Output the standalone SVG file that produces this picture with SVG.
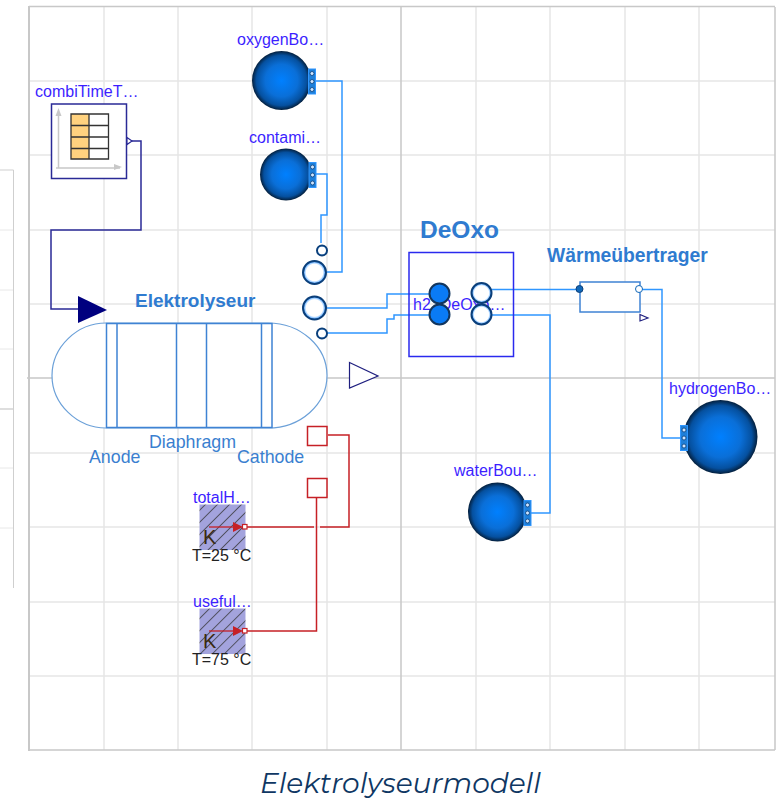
<svg xmlns="http://www.w3.org/2000/svg" width="783" height="800" viewBox="0 0 783 800">
<style>
.g{stroke:#e6e6e6;stroke-width:1.5;fill:none}
.gd{stroke:#c8c8c8;stroke-width:1.5;fill:none}
.lb{font-family:"Liberation Sans",Arial,sans-serif;font-size:16px;fill:#3c1fff}
.bl{font-family:"Liberation Sans",Arial,sans-serif;fill:#3a7fd0;font-size:17.8px}
.blb{font-family:"Liberation Sans",Arial,sans-serif;fill:#2f7bd0;font-weight:bold}
.bk{font-family:"Liberation Sans",Arial,sans-serif;font-size:16px;fill:#222}
.fl{fill:none;stroke:#2f96ff;stroke-width:1.5}
.hr{fill:none;stroke:#c62026;stroke-width:1.5}
.sg{fill:none;stroke:#2a2a96;stroke-width:1.5}
.e{fill:none;stroke:#3f83d4;stroke-width:1.5}
.po{fill:url(#ring);stroke:#0b3f7a;stroke-width:2}
.pf{fill:#0a7bf5;stroke:#12365f;stroke-width:2}
.port{fill:#1f7fd8;stroke:#2f96ff;stroke-width:1}
.pd{fill:#cfe6ff;stroke:#0b3f7a;stroke-width:.8}
</style>
<defs>
<radialGradient id="ball" cx="50%" cy="50%" r="50%">
<stop offset="0" stop-color="#0080ff"/><stop offset=".55" stop-color="#0a6fd8"/><stop offset=".85" stop-color="#05509f"/><stop offset="1" stop-color="#041f3c"/>
</radialGradient>
<radialGradient id="ring" cx="50%" cy="50%" r="50%">
<stop offset="0" stop-color="#fff"/><stop offset=".72" stop-color="#fff"/><stop offset="1" stop-color="#1f8bff"/>
</radialGradient>
<pattern id="hatch" width="8.500" height="8.500" patternUnits="userSpaceOnUse" patternTransform="rotate(45)">
<rect width="8.500" height="8.500" fill="#a3a3dd"/><line x1="0" y1="0" x2="0" y2="8.500" stroke="#333" stroke-width="1.400"/>
</pattern>
<g id="stack">
<rect x="-3.500" y="-12.500" width="7" height="25" class="port"/>
<circle cx="0" cy="-8" r="2" class="pd"/><circle cx="0" cy="0" r="2" class="pd"/><circle cx="0" cy="8" r="2" class="pd"/>
</g>
</defs>
<rect width="783" height="800" fill="#fff"/>
<g id="sidepanel" fill="none" stroke="#cfcfcf" stroke-width="1">
<path d="M0 170H13.500V588"/>
<path d="M0 230H13M0 290H13M0 349H13M0 468H13M0 528H13" stroke="#e8e8e8"/>
<path d="M0 409H13" stroke="#bdbdbd"/>
</g>
<g id="grid">
<path class="g" d="M104 7V750M178 7V750M252 7V750M327 7V750M476 7V750M550 7V750M625 7V750M699 7V750M29 81H775M29 155H775M29 230H775M29 304H775M29 453H775M29 527H775M29 602H775M29 676H775"/>
<path class="gd" d="M401 7V750M27 378H775M29 750H775M775 7V750M29 6.500H775"/>
<path d="M29 6V751" fill="none" stroke="#c8c8c8" stroke-width="2"/>
</g>
<g id="connectors">
<path class="fl" d="M315 81H342V272H327"/>
<path class="fl" d="M315 174H327V215H321V243"/>
<path class="fl" d="M327 308H387V294H430"/>
<path class="fl" d="M327 333H387V319H394V315H430"/>
<path class="fl" d="M492 289.500H580"/>
<path class="fl" d="M492 315H550V513H531"/>
<path class="fl" d="M640 289.500H662V438H680"/>
<path class="hr" d="M328 435H349V527H320M314 527H245"/>
<path class="hr" d="M316.500 498V631H245"/>
<path class="sg" d="M131 141H141V230H51V309H78"/>
</g>
<g id="combiTimeTable">
<text class="lb" x="35" y="97">combiTimeT…</text>
<rect x="51.500" y="104" width="75" height="74.500" fill="#fff" stroke="#2a2a96" stroke-width="1.500"/>
<path d="M58.500 168V112M56 168H120" fill="none" stroke="#c8c8c8" stroke-width="1.500"/>
<path d="M58.500 108L55.500 116H61.500ZM122 167L114 164V170Z" fill="#c8c8c8"/>
<rect x="71" y="114" width="18" height="45" fill="#ffd27f"/>
<path d="M71 114H108.500V159H71ZM89 114V159M71 125.500H108.500M71 137H108.500M71 148.500H108.500" fill="none" stroke="#333" stroke-width="1.300"/>
<path d="M127 137.500L132 141L127 144.500Z" fill="#fff" stroke="#2a2a96" stroke-width="1.200"/>
</g>
<g id="oxygenBoundary">
<text class="lb" x="237" y="45">oxygenBo…</text>
<circle cx="281.500" cy="80.500" r="29.500" fill="url(#ball)"/>
<use href="#stack" x="312" y="81.500"/>
</g>
<g id="contaminant">
<text class="lb" x="249" y="143">contami…</text>
<circle cx="286" cy="174.500" r="26" fill="url(#ball)"/>
<use href="#stack" x="312.500" y="175"/>
</g>
<g id="electrolyzer">
<text class="blb" x="135" y="307" font-size="19">Elektrolyseur</text>
<path d="M106 323H268C301 323 327 347 327 375.500C327 404 301 428 268 428H106C77 428 52 404 52 375.500C52 347 77 323 106 323Z" fill="#fff" stroke="#6ba0d8" stroke-width="1.200"/>
<path class="e" d="M106.500 323.500H272V427.500H106.500ZM117 323.500V427.500M176.500 323.500V427.500M206.500 323.500V427.500M261.500 323.500V427.500"/>
<path d="M78 296L107 310L78 323Z" fill="#00007f"/>
<circle class="po" cx="322" cy="250.500" r="5"/>
<circle class="po" cx="314.500" cy="272.500" r="11.500"/>
<circle class="po" cx="314.500" cy="308" r="11.500"/>
<circle class="po" cx="322" cy="333.500" r="5"/>
<path d="M349.500 362.500L378 376L349.500 388Z" fill="#fff" stroke="#1f1f7f" stroke-width="1.200"/>
<rect x="307.500" y="426.500" width="19.500" height="19" fill="#fff" stroke="#c62026" stroke-width="1.500"/>
<rect x="307.500" y="478.500" width="19.500" height="19" fill="#fff" stroke="#c62026" stroke-width="1.500"/>
<text class="bl" x="89" y="462.500">Anode</text>
<text class="bl" x="149" y="447.500">Diaphragm</text>
<text class="bl" x="237" y="462.500">Cathode</text>
</g>
<g id="deOxo">
<text class="blb" x="420" y="238" font-size="24.500">DeOxo</text>
<rect x="409" y="252.500" width="104.500" height="104" fill="none" stroke="#2a2aee" stroke-width="1.500"/>
<text class="lb" x="413" y="310">h2_DeOxo…</text>
<circle class="pf" cx="439.500" cy="293.500" r="10"/>
<circle class="pf" cx="439.500" cy="314.500" r="10"/>
<circle class="po" cx="481.500" cy="293" r="10"/>
<circle class="po" cx="481.500" cy="314.500" r="10"/>
</g>
<g id="heatExchanger">
<text class="blb" x="547" y="261.500" font-size="19.300">Wärmeübertrager</text>
<rect x="580" y="282" width="60" height="30" fill="#fff" stroke="#3f83d4" stroke-width="1.500"/>
<circle cx="579.500" cy="289" r="3.500" fill="#1268b8" stroke="#0b3f7a"/>
<circle cx="639" cy="289" r="3.500" fill="#fff" stroke="#1268b8"/>
<path d="M640 314.500L648 318L640 321Z" fill="#fff" stroke="#1f1f7f" stroke-width="1.200"/>
</g>
<g id="waterBoundary">
<text class="lb" x="454" y="476">waterBou…</text>
<circle cx="497.500" cy="512" r="29.500" fill="url(#ball)"/>
<use href="#stack" x="527.500" y="513"/>
</g>
<g id="hydrogenBoundary">
<text class="lb" x="669" y="394">hydrogenBo…</text>
<circle cx="720.500" cy="437" r="37" fill="url(#ball)"/>
<use href="#stack" x="684" y="438"/>
</g>
<g id="totalHeat">
<text class="lb" x="193" y="503">totalH…</text>
<rect x="199.500" y="504.500" width="46" height="45.500" fill="url(#hatch)"/>
<text x="203" y="544" font-family="Liberation Sans,Arial,sans-serif" font-size="20" fill="#3a2a10">K</text>
<path d="M209 527H240" fill="none" stroke="#c62026" stroke-width="1.300"/>
<path d="M233 522L243 527L233 532Z" fill="#c62026"/>
<rect x="242.500" y="524.500" width="4.500" height="4.500" fill="#fff" stroke="#c62026" stroke-width="1.200"/>
<text class="bk" x="192" y="561">T=25 °C</text>
</g>
<g id="usefulHeat">
<text class="lb" x="193" y="607">useful…</text>
<rect x="199.500" y="608.500" width="46" height="45.500" fill="url(#hatch)"/>
<text x="203" y="648" font-family="Liberation Sans,Arial,sans-serif" font-size="20" fill="#3a2a10">K</text>
<path d="M209 631H240" fill="none" stroke="#c62026" stroke-width="1.300"/>
<path d="M233 626L243 631L233 636Z" fill="#c62026"/>
<rect x="242.500" y="628.500" width="4.500" height="4.500" fill="#fff" stroke="#c62026" stroke-width="1.200"/>
<text class="bk" x="192" y="665">T=75 °C</text>
</g>
<text x="260" y="793" font-family="Montserrat,'Open Sans',sans-serif" font-style="italic" font-size="28" fill="#0f3763">Elektrolyseurmodell</text>
</svg>
